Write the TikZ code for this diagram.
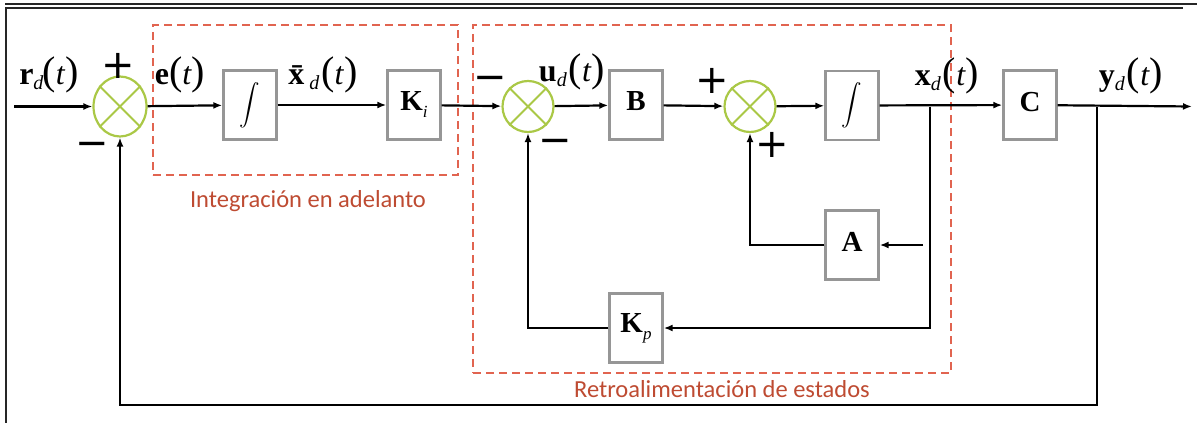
\documentclass[tikz,border=0pt]{standalone}
\usepackage{graphicx}
\usepackage{fontspec}
\setmainfont{Liberation Serif}
\newfontfamily\capfont{Carlito}
\newfontfamily\signfont{DejaVu Sans}
\usetikzlibrary{arrows.meta,shapes.geometric}
\definecolor{boxgray}{RGB}{150,150,150}
\definecolor{sumgreen}{RGB}{170,200,70}
\definecolor{dashred}{RGB}{225,100,80}
\definecolor{captxt}{RGB}{190,75,50}
\newcommand{\bigpar}[1]{{\fontsize{40}{40}\selectfont#1}}
\newcommand{\siglab}[3]{{\fontsize{32}{32}\selectfont\textbf{#1}}\raisebox{-5pt}{\fontsize{20}{20}\selectfont\textit{#2}}\kern#3\bigpar{(}{\fontsize{32}{32}\selectfont\textit{t}}\bigpar{)}}
\newcommand{\blk}[2]{{\fontsize{29}{29}\selectfont\textbf{#1}}\raisebox{-7pt}{\fontsize{17}{17}\selectfont\textit{#2}}}
\newcommand{\intsym}{\scalebox{2.05}{$\displaystyle\int$}}
\tikzset{
  blockbox/.style={draw=boxgray,line width=2.4pt,fill=white,minimum width=53pt,minimum height=69pt,inner sep=0pt},
  sumj/.style={draw=sumgreen,line width=2.2pt,circle,minimum size=51pt,inner sep=0pt},
  sumx/.style={sumgreen,line width=2pt},
  conn/.style={line width=2.2pt,-{Latex[length=9pt,width=7pt]}},
  dashbox/.style={draw=dashred,line width=2pt,dash pattern=on 8pt off 5pt,inner sep=0pt},
  captionlbl/.style={font=\capfont\fontsize{24.5}{24.5}\selectfont,text=captxt,inner sep=0pt},
  siglbl/.style={inner sep=0pt},
  sgn/.style={inner sep=0pt,font=\signfont\fontsize{40}{40}\selectfont},
  frameln/.style={line width=1.2pt,black!85}
}
\begin{document}
\begin{tikzpicture}[x=1pt,y=-1pt]
\useasboundingbox (0,0) rectangle (1197,423);
% frame
\draw[frameln] (6,423) -- (6,8) -- (1183,8);
\draw[frameln] (5,4) -- (1197,4);
% dashed groups
\node[dashbox,minimum width=305pt,minimum height=150pt] (g1) at (305.5,100) {};
\node[dashbox,minimum width=478pt,minimum height=348pt] (g2) at (712,199) {};
\node[captionlbl] (c1) at (308,201) {Integración en adelanto};
\node[captionlbl] (c2) at (722,389) {Retroalimentación de estados};
% summing junctions
\node[sumj,ellipse,minimum width=53pt,minimum height=60pt] (s1) at (120,106.5) {};
\node[sumj] (s2) at (528,106.5) {};
\node[sumj] (s3) at (750,106.5) {};
\foreach \s in {s1,s2,s3}{
  \draw[sumx] (\s.45) -- (\s.225);
  \draw[sumx] (\s.135) -- (\s.315);
}
% blocks
\node[blockbox] (i1) at (250,105) {\intsym};
\node[blockbox] (ki) at (414,105) {\blk{K}{i}};
\node[blockbox] (b) at (636,105) {\blk{B}{}};
\node[blockbox] (i2) at (852,105.5) {\intsym};
\node[blockbox] (c) at (1030,105) {\blk{C}{}};
\node[blockbox] (a) at (852,245) {\blk{A}{}};
\node[blockbox] (kp) at (636,328) {\blk{K}{p}};
% coordinates
\coordinate (in) at (14,106.5);
\coordinate (out) at (1192,106.5);
\coordinate (bx) at (930,106.5);
\coordinate (by) at (1097,106.5);
\coordinate (ain) at (923,245);
\coordinate (fbc) at (1097,405);
% connectors
\draw[conn] (in) -- (s1);
\draw[conn] (s1) -- (i1);
\draw[conn] (i1) -- (ki);
\draw[conn] (ki) -- (s2);
\draw[conn] (s2) -- (b);
\draw[conn] (b) -- (s3);
\draw[conn] (s3) -- (i2);
\draw[conn] (i2) -- (c);
\draw[conn] (c) -- (out);
\draw[conn] (bx) |- (kp);
\draw[conn] (kp) -| (s2);
\draw[conn] (ain) -- (a);
\draw[conn] (a) -| (s3);
\draw[conn] (by) -- (fbc) -| (s1);
% signal labels
\node[siglbl] (lr) at (49,75) {\siglab{r}{d}{-1pt}};
\node[siglbl] (le) at (180,75) {{\fontsize{32}{32}\selectfont\textbf{e}}\bigpar{(}{\fontsize{32}{32}\selectfont\textit{t}}\bigpar{)}};
\node[siglbl] (lxb) at (323,75) {\siglab{\=x}{d}{2pt}};
\node[siglbl] (lu) at (572,72) {\siglab{u}{d}{2pt}};
\node[siglbl] (lx) at (947,76) {\siglab{x}{d}{2pt}};
\node[siglbl] (ly) at (1131,76) {\siglab{y}{d}{2pt}};
% signs
\node[sgn] (p1) at (118,66) {+};
\node[sgn] (m1) at (92,149) {−};
\node[sgn] (m2a) at (490,83) {−};
\node[sgn] (m2b) at (555,146) {−};
\node[sgn] (p3a) at (712,81) {+};
\node[sgn] (p3b) at (772,145) {+};
\end{tikzpicture}
\end{document}
